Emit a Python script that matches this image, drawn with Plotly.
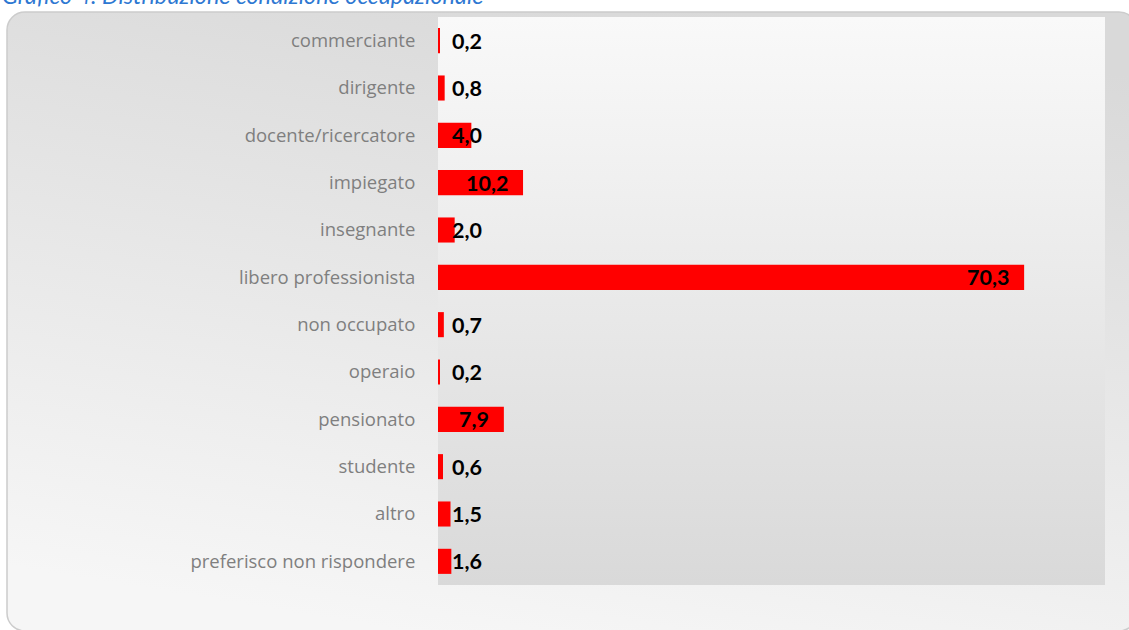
import base64
import plotly.graph_objects as go

categorie = [
    "commerciante", "dirigente", "docente/ricercatore", "impiegato", "insegnante",
    "libero professionista", "non occupato", "operaio", "pensionato", "studente",
    "altro", "preferisco non rispondere",
]
valori = [0.2, 0.8, 4.0, 10.2, 2.0, 70.3, 0.7, 0.2, 7.9, 0.6, 1.5, 1.6]
titolo = "Grafico 4. Distribuzione condizione occupazionale"

W, H = 1129, 630
ML, MR, MT, MB = 438, 24, 17, 45
PW, PH = W - ML - MR, H - MT - MB

# sfondo: riquadro arrotondato + area del grafico sfumata (svg inline)
svg = f"""<svg xmlns='http://www.w3.org/2000/svg' width='{W}' height='{H}' viewBox='0 0 {W} {H}'>
<defs>
<linearGradient id='g1' x1='0.65' y1='0' x2='0.35' y2='1'>
<stop offset='0' stop-color='#d9d9d9'/><stop offset='1' stop-color='#f6f6f6'/>
</linearGradient>
<linearGradient id='g2' x1='0' y1='0' x2='0' y2='1'>
<stop offset='0' stop-color='#f9f9f9'/><stop offset='1' stop-color='#d9d9d9'/>
</linearGradient>
</defs>
<rect x='7' y='12' width='1130' height='619' rx='18' ry='18' fill='url(#g1)' stroke='#cccccc' stroke-width='1.5'/>
<rect x='{ML}' y='{MT}' width='{PW}' height='{PH}' fill='url(#g2)'/>
</svg>"""
sfondo = "data:image/svg+xml;base64," + base64.b64encode(svg.encode()).decode()

fig = go.Figure()

fig.add_trace(
    go.Bar(
        x=valori,
        y=categorie,
        orientation="h",
        width=0.53,
        marker=dict(color="#FF0000", line=dict(width=0)),
        hoverinfo="skip",
    )
)

# etichette: fine interna, oppure alla base se la barra e' troppo corta
soglia = 7
annotazioni = []
for c, v in zip(categorie, valori):
    testo = f"{v:.1f}".replace(".", ",")
    if v >= soglia:
        annotazioni.append(dict(x=v, y=c, text=testo, xanchor="right", xshift=-13))
    else:
        annotazioni.append(dict(x=0, y=c, text=testo, xanchor="left", xshift=12))
for a in annotazioni:
    a.update(xref="x", yref="y", showarrow=False, yanchor="middle",
             font=dict(family="Lato", size=21.5, color="black", weight="bold"))

annotazioni.append(dict(
    text=f"<i>{titolo}</i>", xref="paper", yref="paper",
    x=-ML / PW, y=(PH + MT - 11) / PH, xanchor="left", yanchor="bottom",
    showarrow=False, font=dict(family="Lato", size=23.4, color="#2E78D2"),
))

fig.update_layout(
    width=W,
    height=H,
    margin=dict(l=ML, r=MR, t=MT, b=MB),
    paper_bgcolor="white",
    plot_bgcolor="rgba(0,0,0,0)",
    showlegend=False,
    bargap=0.47,
    annotations=annotazioni,
    images=[dict(
        source=sfondo, xref="paper", yref="paper",
        x=-ML / PW, y=(PH + MT) / PH, sizex=W / PW, sizey=H / PH,
        xanchor="left", yanchor="top", sizing="stretch", layer="below",
    )],
)

fig.update_xaxes(range=[0, 80], visible=False, fixedrange=True)
fig.update_yaxes(
    autorange="reversed",
    showgrid=False,
    showline=False,
    zeroline=False,
    ticks="outside",
    ticklen=18,
    tickcolor="rgba(0,0,0,0)",
    tickfont=dict(family="Open Sans", size=18.5, color="#7f7f7f"),
    fixedrange=True,
)

fig.write_html("out.html", config={"displayModeBar": False},
               post_script="document.body.style.margin='0';")
